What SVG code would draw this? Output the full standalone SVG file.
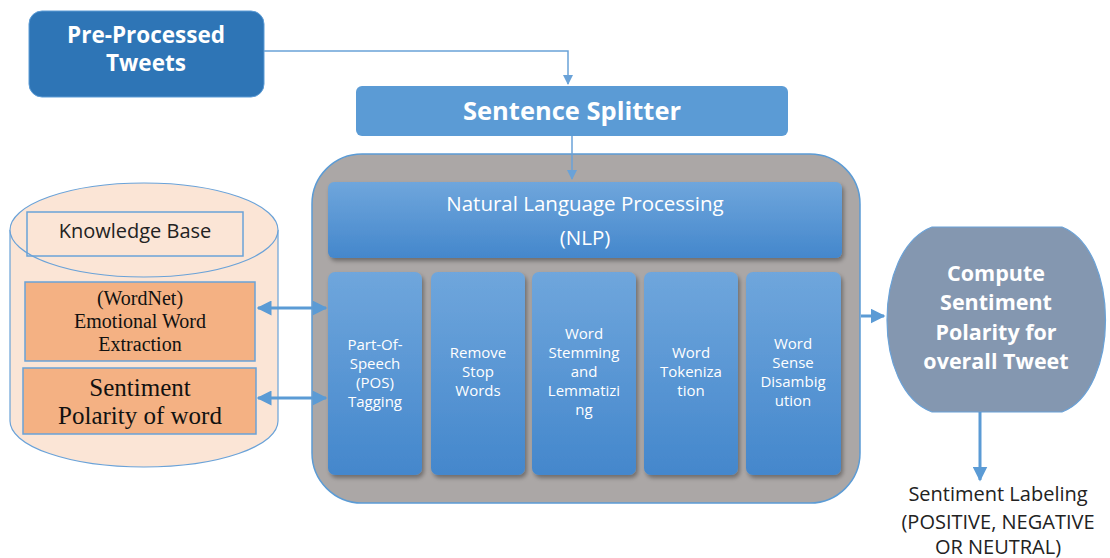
<svg xmlns="http://www.w3.org/2000/svg" width="1110" height="558" viewBox="0 0 1110 558">
<defs>
<linearGradient id="blueG" x1="0" y1="0" x2="0" y2="1">
<stop offset="0" stop-color="#6FA6DC"/>
<stop offset="1" stop-color="#4487CC"/>
</linearGradient>
<filter id="sh" x="-10%" y="-10%" width="130%" height="130%">
<feDropShadow dx="2" dy="3" stdDeviation="2" flood-color="#000" flood-opacity="0.35"/>
</filter>
<marker id="ah" viewBox="0 0 10 10" refX="9" refY="5" markerWidth="10" markerHeight="10" markerUnits="userSpaceOnUse" orient="auto-start-reverse">
<path d="M0,0 L10,5 L0,10 z" fill="#6AA2D8"/>
</marker>
<marker id="ahB" viewBox="0 0 10 10" refX="9" refY="5" markerWidth="5" markerHeight="5" orient="auto-start-reverse">
<path d="M0,0 L10,5 L0,10 z" fill="#5B9BD5"/>
</marker>
</defs>
<style>
.w{fill:#fff;font-family:"Open Sans",sans-serif;text-anchor:middle}
.b{font-weight:bold}
.sub{font-size:15px}
.serif{font-family:"Liberation Serif",serif;fill:#111;text-anchor:middle}
.dark{fill:#222;font-family:"Open Sans",sans-serif;text-anchor:middle}
.thin{stroke:#6AA2D8;stroke-width:1.5;fill:none}
.thick{stroke:#5B9BD5;stroke-width:3;fill:none}
.sb{fill:url(#blueG);filter:url(#sh)}
</style>

<g id="pre-processed">
<rect x="29" y="11" width="235" height="86" rx="13" fill="#2E75B6" stroke="#5B9BD5" stroke-width="1"/>
<text class="w b" x="146" y="43" font-size="22.5">Pre-Processed</text>
<text class="w b" x="146" y="71" font-size="22.5">Tweets</text>
</g>

<g id="sentence-splitter">
<rect x="356" y="86" width="432" height="50" rx="6" fill="#5B9BD5"/>
<text class="w b" x="572" y="120" font-size="25.5">Sentence Splitter</text>
</g>

<g id="nlp-container">
<rect x="312" y="154" width="548" height="349" rx="50" fill="#ABA7A6" stroke="#5B9BD5" stroke-width="1.5"/>
</g>

<g id="nlp">
<rect class="sb" x="328" y="182" width="514" height="76" rx="6"/>
<text class="w" x="585" y="211" font-size="20.5">Natural Language Processing</text>
<text class="w" x="585" y="245" font-size="20.5">(NLP)</text>
</g>

<g id="pos">
<rect class="sb" x="328" y="272" width="94" height="203" rx="7"/>
<text class="w sub" x="375" y="350">Part-Of-</text>
<text class="w sub" x="375" y="369">Speech</text>
<text class="w sub" x="375" y="388">(POS)</text>
<text class="w sub" x="375" y="407">Tagging</text>
</g>

<g id="stopwords">
<rect class="sb" x="431" y="272" width="94" height="203" rx="7"/>
<text class="w sub" x="478" y="358">Remove</text>
<text class="w sub" x="478" y="377">Stop</text>
<text class="w sub" x="478" y="396">Words</text>
</g>

<g id="stemming">
<rect class="sb" x="532" y="272" width="104" height="203" rx="7"/>
<text class="w sub" x="584" y="339">Word</text>
<text class="w sub" x="584" y="358">Stemming</text>
<text class="w sub" x="584" y="377">and</text>
<text class="w sub" x="584" y="396">Lemmatizi</text>
<text class="w sub" x="584" y="415">ng</text>
</g>

<g id="tokenization">
<rect class="sb" x="644" y="272" width="94" height="203" rx="7"/>
<text class="w sub" x="691" y="358">Word</text>
<text class="w sub" x="691" y="377">Tokeniza</text>
<text class="w sub" x="691" y="396">tion</text>
</g>

<g id="wsd">
<rect class="sb" x="746" y="272" width="95" height="203" rx="7"/>
<text class="w sub" x="793" y="349">Word</text>
<text class="w sub" x="793" y="368">Sense</text>
<text class="w sub" x="793" y="387">Disambig</text>
<text class="w sub" x="793" y="406">ution</text>
</g>

<g id="knowledge-base">
<path d="M10,230 L10,421 A134,46 0 0 0 278,421 L278,230" fill="#FBE5D6" stroke="#6AA2D8" stroke-width="1.2"/>
<ellipse cx="144" cy="230" rx="134" ry="47" fill="#FBE5D6" stroke="#6AA2D8" stroke-width="1.2"/>
<rect x="27" y="212" width="216" height="44" fill="none" stroke="#6AA2D8" stroke-width="1.5"/>
<text class="dark" x="135" y="238" font-size="20">Knowledge Base</text>
</g>

<g id="wordnet">
<rect x="25" y="282" width="230" height="79" fill="#F4B183" stroke="#6AA2D8" stroke-width="1.5"/>
<text class="serif" x="140" y="305" font-size="20">(WordNet)</text>
<text class="serif" x="140" y="328" font-size="20">Emotional Word</text>
<text class="serif" x="140" y="351" font-size="20">Extraction</text>
</g>

<g id="polarity-word">
<rect x="23" y="368" width="233" height="66" fill="#F4B183" stroke="#6AA2D8" stroke-width="1.5"/>
<text class="serif" x="140" y="396" font-size="25">Sentiment</text>
<text class="serif" x="140" y="424" font-size="25">Polarity of word</text>
</g>

<g id="compute">
<path d="M932,227 L1062,227 C1120,250 1120,390 1062,412 L932,412 C872,390 872,250 932,227 Z" fill="#8497B0" stroke="#6AA2D8" stroke-width="1.2"/>
<text class="w b" x="996" y="281" font-size="21.5">Compute</text>
<text class="w b" x="996" y="310" font-size="21.5">Sentiment</text>
<text class="w b" x="996" y="340" font-size="21.5">Polarity for</text>
<text class="w b" x="996" y="369" font-size="21.5">overall Tweet</text>
</g>

<g id="labeling">
<text class="dark" x="998" y="501" font-size="20">Sentiment Labeling</text>
<text class="dark" x="998" y="529" font-size="20">(POSITIVE, NEGATIVE</text>
<text class="dark" x="998" y="554" font-size="20">OR NEUTRAL)</text>
</g>

<g id="connectors">
<path class="thin" d="M264,51 L568,51 L568,84" marker-end="url(#ah)"/>
<path class="thin" d="M572,136 L572,179" marker-end="url(#ah)"/>
<path class="thick" d="M258,308 L326,308" marker-start="url(#ahB)" marker-end="url(#ahB)"/>
<path class="thick" d="M258,398 L326,398" marker-start="url(#ahB)" marker-end="url(#ahB)"/>
<path class="thick" d="M861,316 L884,316" marker-end="url(#ahB)"/>
<path class="thick" d="M980,412 L980,480" marker-end="url(#ahB)"/>
</g>
</svg>
